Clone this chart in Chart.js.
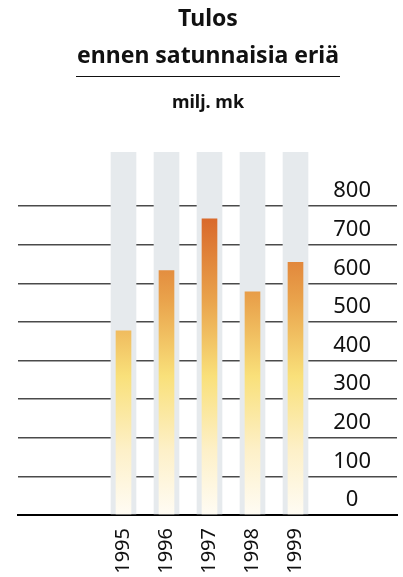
<!DOCTYPE html>
<html>
<head>
<meta charset="utf-8">
<script src="https://cdn.jsdelivr.net/npm/chart.js@4.4.1/dist/chart.umd.min.js"></script>
<style>
  body { margin: 0; background: #fff; font-family: "Noto Sans", sans-serif; }
  #wrap { position: relative; width: 403px; height: 577px; }
  canvas { position: absolute; left: 0; top: 0; }
  .t { position: absolute; left: 76px; width: 264px; text-align: center; font-weight: bold; color: #111; white-space: nowrap; }
  #t1 { top: 2px; font-size: 23px; line-height: 30px; }
  #t2 { top: 39px; font-size: 23px; line-height: 30px; padding-bottom: 7px; border-bottom: 1.3px solid #111; }
  #t3 { top: 89px; font-size: 18px; line-height: 24px; }
</style>
</head>
<body>
<div id="wrap">
  <canvas id="chart" width="403" height="577"></canvas>
  <div class="t" id="t1">Tulos</div>
  <div class="t" id="t2">ennen satunnaisia eriä</div>
  <div class="t" id="t3">milj. mk</div>
</div>
<script>
// tiedot
const years = [1995, 1996, 1997, 1998, 1999];
const tulos = [477, 633, 767, 578, 654];   // milj. mk
const yTicks = [0, 100, 200, 300, 400, 500, 600, 700, 800];
const yMax = 940;                           // harmaat taustapylväät ulottuvat tänne asti

// oranssi -> keltainen -> valkoinen liukuväri koko kuva-alan korkeudelta
function barFill(ctx) {
  const chart = ctx.chart;
  if (!chart.chartArea) return '#f2c464';
  const y = chart.scales.y;
  const g = chart.ctx.createLinearGradient(0, y.getPixelForValue(0), 0, y.getPixelForValue(800));
  g.addColorStop(0, '#fffcf4');
  g.addColorStop(0.21, '#fdf0c8');
  g.addColorStop(0.45, '#f9e07a');
  g.addColorStop(0.7, '#e9a24b');
  g.addColorStop(0.96, '#d9692b');
  g.addColorStop(1, '#d8662a');
  return g;
}

const chart = new Chart(document.getElementById('chart'), {
  type: 'bar',
  data: {
    datasets: [
      {
        label: 'Tulos',
        data: years.map((v, i) => ({ x: v, y: tulos[i] })),
        backgroundColor: barFill,
        barThickness: 15,
        grouped: false,
        order: 1
      },
      {
        label: 'tausta',
        data: years.map(v => ({ x: v, y: yMax })),
        backgroundColor: '#e6eaed',
        barThickness: 25,
        grouped: false,
        order: 2
      }
    ]
  },
  options: {
    responsive: false,
    animation: false,
    layout: { padding: { top: 152, left: 18, right: 6, bottom: 0 } },
    plugins: { legend: { display: false }, tooltip: { enabled: false } },
    scales: {
      x: {
        type: 'linear',
        offset: false,
        min: 1992.5465,
        max: 2001.3605,
        afterBuildTicks: s => { s.ticks = years.map(v => ({ value: v })); },
        afterFit: s => { s.height = 62; },
        grid: { display: false, drawTicks: false },
        border: { display: true, color: '#000', width: 2 },
        ticks: {
          minRotation: 90, maxRotation: 90, padding: 13,
          color: '#111', font: { family: 'Noto Sans', size: 20 },
          callback: v => String(v)
        }
      },
      y: {
        position: 'right',
        min: 0,
        max: yMax,
        afterBuildTicks: s => { s.ticks = yTicks.map(v => ({ value: v })); },
        afterFit: s => { s.width = 0; },
        grid: {
          drawTicks: false,
          color: c => c.tick.value === 0 ? '#000' : '#4a4a4a',
          lineWidth: c => c.tick.value === 0 ? 2 : 1.5
        },
        border: { display: false },
        ticks: {
          mirror: true, crossAlign: 'center', padding: -26, labelOffset: -15,
          color: '#111', font: { family: 'Noto Sans', size: 22 },
          callback: v => String(v)
        }
      }
    }
  }
});
</script>
</body>
</html>
